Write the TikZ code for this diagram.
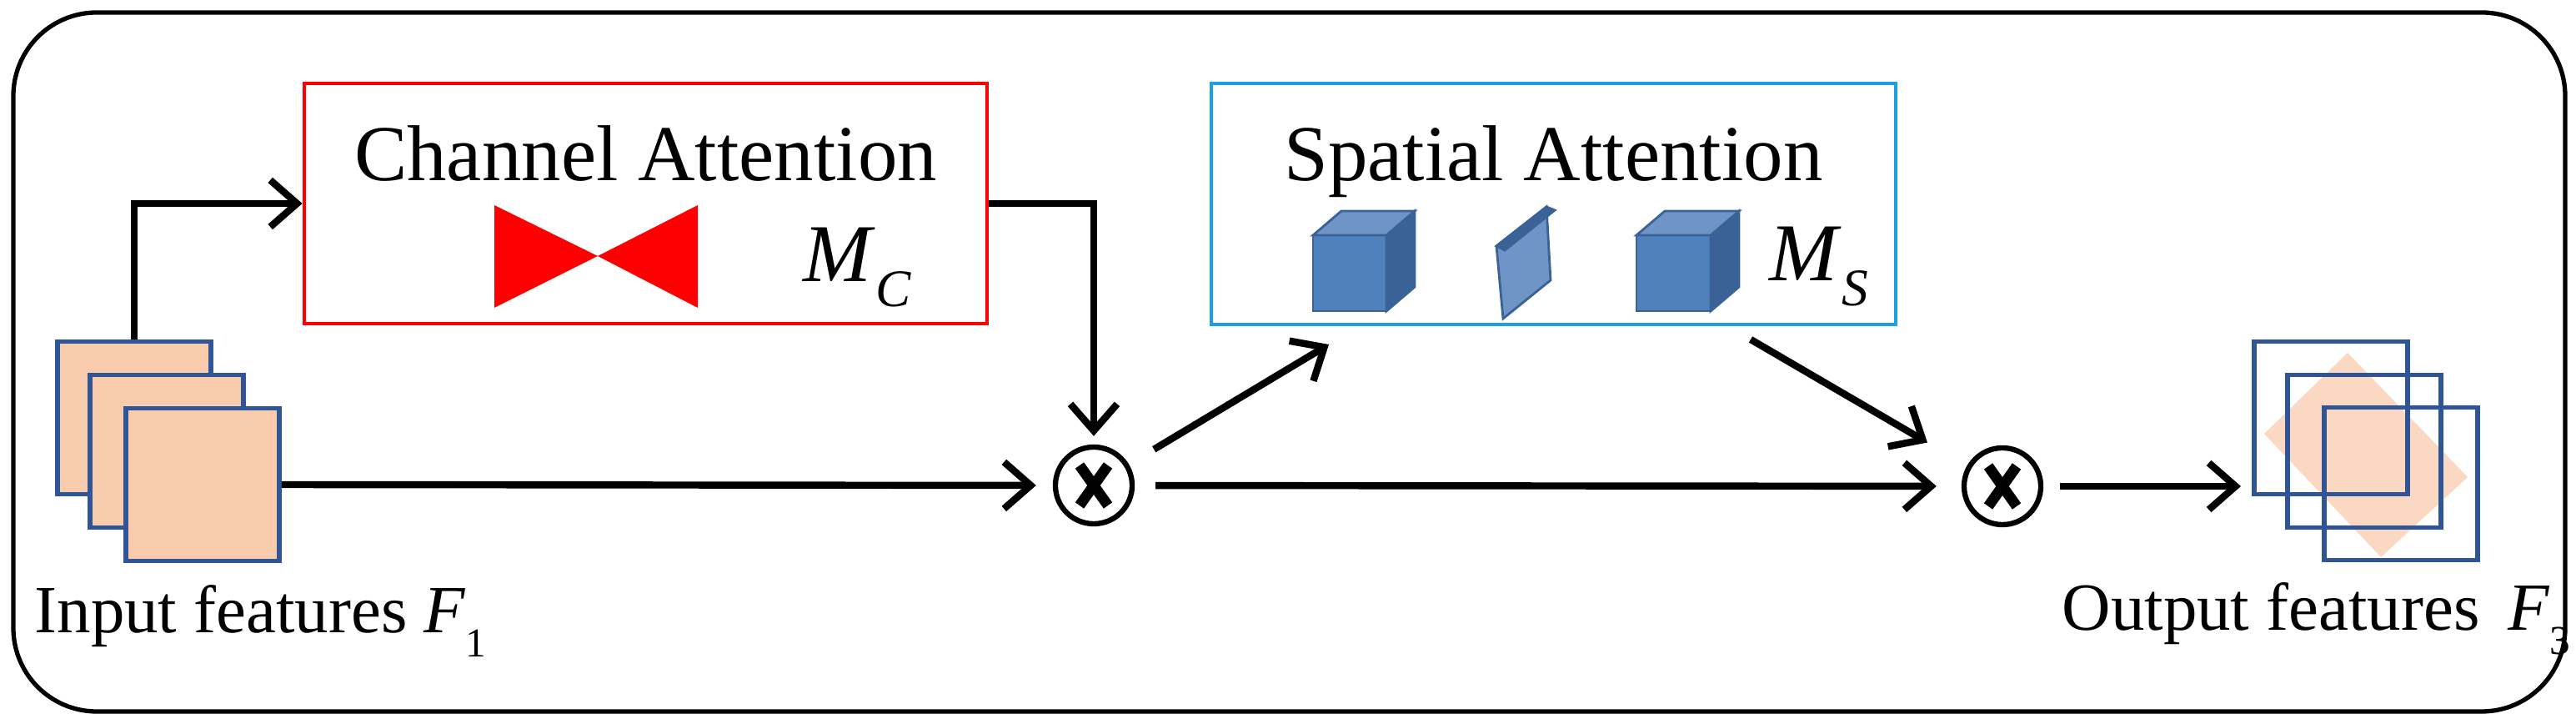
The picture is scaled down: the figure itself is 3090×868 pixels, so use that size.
\documentclass[tikz,border=0pt]{standalone}
\usepackage{fontspec}
\setmainfont{Liberation Serif}
\usetikzlibrary{arrows.meta,calc}
\definecolor{peach}{HTML}{F8CBAD}
\definecolor{sqblue}{HTML}{2F5597}
\definecolor{cyanb}{HTML}{1BA1E2}
\definecolor{cubef}{HTML}{4F81BD}
\definecolor{cubes}{HTML}{3A6296}
\definecolor{cubet}{HTML}{6E95C6}
\begin{document}
\begin{tikzpicture}[x=0.01cm,y=-0.01cm,
  sq/.style={draw=sqblue,line width=1.6pt,minimum width=1.84cm,minimum height=1.83cm,inner sep=0pt},
  arr/.style={line width=2.4pt,-{Straight Barb[length=3.2mm,width=5.6mm,line width=2.4pt]}},
  box/.style={draw,line width=1.2pt,inner sep=0pt},
  otim/.style={circle,draw,line width=1.8pt,minimum size=0.92cm,inner sep=0pt},
  lbl/.style={font=\fontsize{23}{26}\selectfont,anchor=base west,inner sep=0pt},
  ttl/.style={font=\fontsize{27}{30}\selectfont,anchor=base,inner sep=0pt},
  cube/.style={line width=0.8pt,draw=cubes}]
\useasboundingbox (0,0) rectangle (3090,868);
\draw[line width=1.5pt,rounded corners=1cm] (16,15) rectangle (3077,853);

% input features
\node[sq,fill=peach] (in1) at (161,501) {};
\node[sq,fill=peach] (in2) at (200,541) {};
\node[sq,fill=peach] (in3) at (243,581) {};
\node[lbl] (inl) at (41,759) {Input features \textit{F}\raisebox{-0.35em}{\fontsize{14}{16}\selectfont 1}};

% channel attention
\node[box,draw=red,minimum width=8.19cm,minimum height=2.88cm] (ch) at (774.5,244) {};
\node[ttl] (cht) at (774.5,217) {Channel Attention};
\fill[red] (593,246) -- (717,307) -- (593,369) -- cycle;
\fill[red] (837,246) -- (717,307) -- (837,369) -- cycle;
\node[lbl,font=\fontsize{28}{30}\selectfont] (mc) at (963,338) {\textit{M}\raisebox{-0.3em}{\fontsize{18}{20}\selectfont\textit{C}}};

% spatial attention
\node[box,draw=cyanb,minimum width=8.21cm,minimum height=2.89cm] (sp) at (1863.5,244.5) {};
\node[ttl] (spt) at (1863.5,217) {Spatial Attention};
% cube 1
\fill[cubef,cube] (1575,282) rectangle (1663,373);
\fill[cubes,cube] (1663,282) -- (1697,253) -- (1697,344) -- (1663,373) -- cycle;
\fill[cubet,cube] (1575,282) -- (1609,253) -- (1697,253) -- (1663,282) -- cycle;
% slab
\fill[cubet,cube] (1795,295) -- (1855,248) -- (1860,336) -- (1803,382) -- cycle;
\fill[cubes,cube] (1795,295) -- (1855,248) -- (1865,252) -- (1805,300) -- cycle;
% cube 3
\fill[cubef,cube] (1963,282) rectangle (2052,373);
\fill[cubes,cube] (2052,282) -- (2086,253) -- (2086,344) -- (2052,373) -- cycle;
\fill[cubet,cube] (1963,282) -- (1997,253) -- (2086,253) -- (2052,282) -- cycle;
\node[lbl,font=\fontsize{28}{30}\selectfont] (ms) at (2122,337) {\textit{M}\raisebox{-0.3em}{\fontsize{18}{20}\selectfont\textit{S}}};

% multipliers
\node[otim] (o1) at (1312,582) {};
\node[otim] (o2) at (2402,583) {};
\foreach \o in {o1,o2}{
  \draw[line width=3.6pt] ($(\o)+(-17,-24)$) -- ($(\o)+(17,24)$);
  \draw[line width=3.6pt] ($(\o)+(17,-24)$) -- ($(\o)+(-17,24)$);
}

% output features
\fill[peach,opacity=0.75] (2816,423) -- (2960,572) -- (2856,668) -- (2716,520) -- cycle;
\node[sq] (out1) at (2796,501) {};
\node[sq] (out2) at (2836,541) {};
\node[sq] (out3) at (2880,580) {};
\node[lbl] (outl) at (2473,756) {Output features \,\textit{F}\raisebox{-0.35em}{\fontsize{14}{16}\selectfont 3}};

% connectors
\coordinate (sa) at (1594,413);
\coordinate (sb) at (2100,407);
\coordinate (ci) at (2688,583);
\draw[arr] (in1.north) |- (ch.west);
\draw[arr,shorten >=0.1cm] (ch.east) -| (o1.north);
\draw[arr,shorten >=0.2cm] (in3.east) -- (o1.west);
\draw[arr,shorten <=0.25cm,shorten >=0.3cm] (o1) -- (o2);
\draw[arr,shorten <=0.35cm] (o1) -- (sa);
\draw[arr,shorten >=0.55cm] (sb) -- (o2);
\draw[arr,shorten <=0.2cm] (o2) -- (ci);
\end{tikzpicture}
\end{document}
